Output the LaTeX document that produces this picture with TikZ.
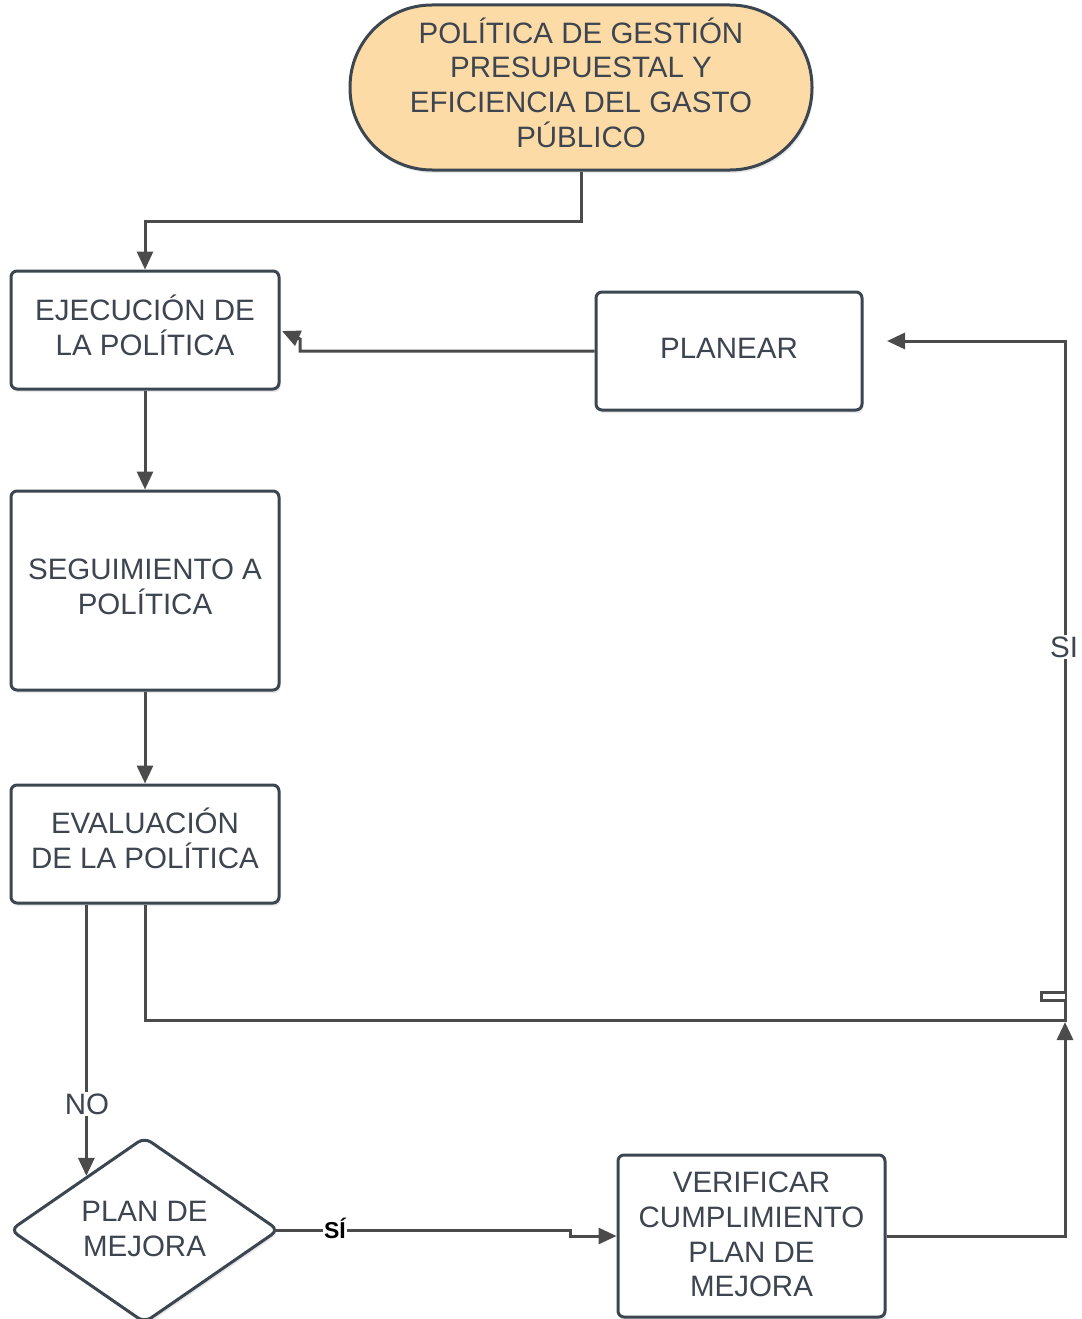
\documentclass[tikz,border=0pt]{standalone}
\usepackage{fontspec}
\setmainfont{Liberation Sans}
\usetikzlibrary{arrows.meta,shapes.geometric,calc,shadows}
\definecolor{peach}{HTML}{FDDBA6}
\definecolor{bord}{HTML}{3C4651}
\definecolor{txt}{HTML}{3D4550}
\definecolor{conn}{HTML}{4B4B4B}
\newcommand{\dn}[1]{\rule[-#1]{0pt}{#1}}
\begin{document}
\begin{tikzpicture}[x=1pt,y=-1pt,
  every node/.style={font=\fontsize{29.5}{34.7}\selectfont, text=txt},
  boxnode/.style={draw=bord, line width=3pt, rounded corners=6pt, fill=white, align=center, inner sep=0pt,
    drop shadow={opacity=0.18, shadow xshift=1.5pt, shadow yshift=-3pt}},
  termnode/.style={draw=bord, line width=3pt, rounded corners=82pt, fill=peach, align=center, inner sep=0pt,
    drop shadow={opacity=0.18, shadow xshift=1.5pt, shadow yshift=-3pt}},
  decnode/.style={diamond, aspect=1.46, draw=bord, line width=3pt, rounded corners=8pt, fill=white, align=center, inner sep=0pt,
    drop shadow={opacity=0.18, shadow xshift=1.5pt, shadow yshift=-3pt}},
  connline/.style={draw=conn, line width=3pt},
  arr/.style={connline, -{Triangle[length=18pt,width=16pt]}},
  lbl/.style={fill=white, inner sep=1.5pt},
]
\useasboundingbox (0,0) rectangle (1081,1319);
\fill[white] (0,0) rectangle (1081,1319);

\node[termnode, minimum width=462pt, minimum height=165pt] (top) at (581,87.5)
  {POLÍTICA DE GESTIÓN\\PRESUPUESTAL Y\\EFICIENCIA DEL GASTO\\PÚBLICO\dn{10pt}};
\node[boxnode, minimum width=268pt, minimum height=118pt] (ejec) at (145,330)
  {EJECUCIÓN DE\\LA POLÍTICA\dn{10pt}};
\node[boxnode, minimum width=266pt, minimum height=118pt] (plan) at (729,351)
  {PLANEAR\dn{6pt}};
\node[boxnode, minimum width=268pt, minimum height=199pt] (seg) at (145,590.5)
  {SEGUIMIENTO A\\POLÍTICA\dn{8pt}};
\node[boxnode, minimum width=268pt, minimum height=118pt] (eval) at (145,844)
  {EVALUACIÓN\\DE LA POLÍTICA\dn{11pt}};
\node[decnode, minimum width=269pt, minimum height=186pt] (diam) at (144.5,1230)
  {PLAN DE\\MEJORA\dn{3pt}};
\node[boxnode, minimum width=267pt, minimum height=162pt] (ver) at (751.5,1236)
  {VERIFICAR\\CUMPLIMIENTO\\PLAN DE\\MEJORA\dn{3pt}};

\coordinate (noend) at ($(diam.north)!0.4275!(diam.west)$);
\coordinate (junc) at (1065,1020);
\coordinate (planin) at (887,341);
\coordinate (ejtip) at (282,331);

% top -> ejecucion
\draw[arr] (top.south) -- ++(0,50) -| (ejec.north);
% planear -> ejecucion
\draw[arr] (plan.west) -| (300,339) -- (ejtip);
% ejecucion -> seguimiento -> evaluacion
\draw[arr] (ejec.south) -- (seg.north);
\draw[arr] (seg.south) -- (eval.north);
% evaluacion -> plan de mejora (NO)
\draw[arr] (eval.south west -| noend) -- (noend);
\node[lbl] (no) at (87,1104) {NO};
% evaluacion -> planear (SI)
\draw[arr] (eval.south) |- (junc) |- (planin);
\node[lbl] (si) at (1064,647) {SI};
% line hop
\draw[draw=conn, line width=3pt, fill=white] (1065,992.5) -- (1041,992.5) -- (1041,1000) -- (1065,1000);
% plan de mejora -> verificar (SÍ)
\draw[arr] ($(diam.east)+(-6,0)$) -| ($(ver.west)+(-46,0)$) -- (ver.west);
\node[lbl, text=black, font=\fontsize{23}{27}\selectfont\bfseries] (sii) at (335,1228) {SÍ};
% verificar -> junction
\draw[arr] (ver.east) -| ($(junc)+(0,2)$);
\end{tikzpicture}
\end{document}
